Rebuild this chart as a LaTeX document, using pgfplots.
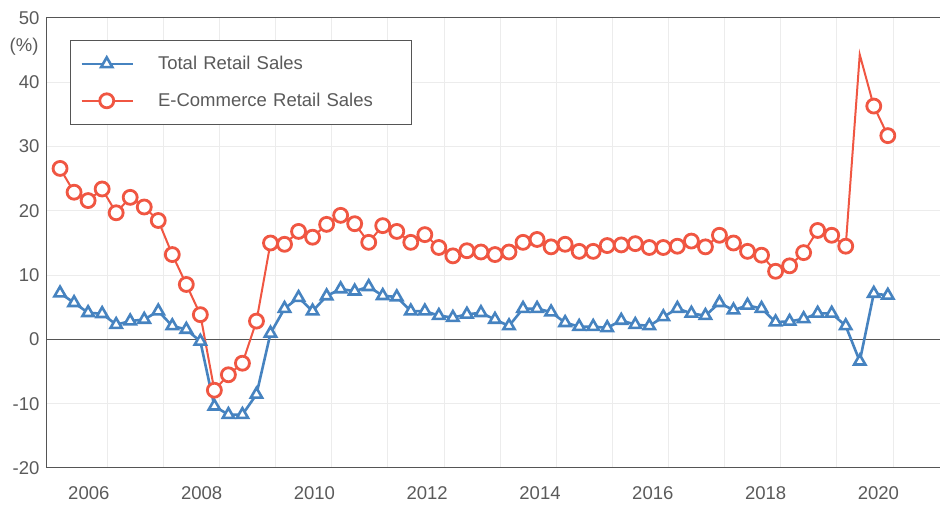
\documentclass[border=0pt]{standalone}
\usepackage{fontspec}
\setmainfont{Liberation Sans}
\usepackage{pgfplots}
\pgfplotsset{compat=1.18}
\usepackage{pgfplotstable}

\definecolor{totblue}{RGB}{70,131,192}
\definecolor{ecred}{RGB}{240,86,66}
\definecolor{txtgray}{RGB}{90,90,90}
\definecolor{axgray}{RGB}{85,85,85}
\definecolor{gridgray}{RGB}{236,236,236}

% quarterly YoY growth, index 0 = first quarter shown
\pgfplotstableread{
i  total  ecom
0  7.2    26.6
1  5.7    22.9
2  4.15   21.6
3  4.0    23.4
4  2.3    19.7
5  2.85   22.1
6  3.1    20.6
7  4.4    18.5
8  2.1    13.2
9  1.55   8.55
10 -0.3   3.85
11 -10.4  -7.9
12 -11.7  -5.5
13 -11.7  -3.7
14 -8.55  2.85
15 0.95   15.0
16 4.8    14.8
17 6.5    16.8
18 4.4    15.9
19 6.75   17.9
20 7.85   19.3
21 7.5    18.0
22 8.2    15.1
23 6.8    17.7
24 6.6    16.8
25 4.4    15.1
26 4.4    16.3
27 3.7    14.3
28 3.4    13.0
29 3.9    13.8
30 4.15   13.6
31 3.1    13.2
32 2.1    13.6
33 4.8    15.1
34 4.8    15.55
35 4.25   14.4
36 2.6    14.8
37 2.0    13.7
38 2.0    13.7
39 1.8    14.6
40 2.95   14.7
41 2.3    14.9
42 2.1    14.3
43 3.5    14.3
44 4.8    14.5
45 4.05   15.3
46 3.7    14.4
47 5.7    16.2
48 4.55   15.0
49 5.3    13.7
50 4.8    13.1
51 2.7    10.6
52 2.8    11.45
53 3.2    13.5
54 4.05   16.95
55 4.05   16.2
56 2.1    14.5
57 -3.4   44.3
58 7.15   36.3
59 6.85   31.7
}\sales

\begin{document}
\begin{tikzpicture}
\begin{axis}[
    width=893pt, height=450pt, scale only axis,
    xmin=-0.93, xmax=62.72, ymin=-20, ymax=50,
    xtick={2.05,10.09,18.13,26.17,34.21,42.25,50.29,58.33},
    xticklabels={2006,2008,2010,2012,2014,2016,2018,2020},
    minor xtick={3.37,7.37,11.37,15.37,19.37,23.37,27.37,31.37,35.37,39.37,43.37,47.37,51.37,55.37,59.37},
    ytick={-20,-10,0,10,20,30,40,50},
    yticklabels={-20,-10,0,10,20,30,40,50},
    xminorgrids=true, xmajorgrids=false, ymajorgrids=true,
    grid style={draw=gridgray, line width=1pt},
    major tick length=0pt, minor tick length=0pt,
    axis line style={draw=axgray, line width=1pt},
    tick label style={text=txtgray, font=\fontsize{18.5}{18.5}\selectfont},
    xticklabel style={yshift=-15pt},
    yticklabel style={xshift=-4pt},
    extra y ticks={0}, extra y tick labels={},
    extra y tick style={grid=major, major grid style={draw=axgray, line width=1pt}},
    legend cell align=left,
    legend style={at={(axis description cs:0.0258,0.951)}, anchor=north west,
        draw=axgray, line width=0.8pt, fill=white,
        font=\fontsize{18.5}{18.5}\selectfont, text=txtgray,
        inner xsep=10pt, inner ysep=14pt, row sep=18pt, column sep=11pt,
        nodes={inner xsep=13pt, text width=230pt}},
    legend image code/.code={%
        \draw[#1, mark indices={2}]
            plot coordinates {(0pt,0pt) (25pt,0pt) (51pt,0pt)};},
  ]
  \addplot[color=totblue, line width=2.6pt, mark=triangle*, mark size=6.5pt,
      mark options={fill=white, line width=2.6pt, solid}]
      table[x=i, y=total] {\sales};
  \addlegendentry{Total Retail Sales}
  \addplot[color=ecred, line width=2pt, mark=*, mark size=7pt,
      mark options={fill=white, line width=2.8pt, solid},
      mark indices={1,...,57,59,60}]
      table[x=i, y=ecom] {\sales};
  \addlegendentry{E-Commerce Retail Sales}
\end{axis}
\node[anchor=east, text=txtgray, font=\fontsize{18.5}{18.5}\selectfont]
    at ([shift={(-5pt,-29pt)}]current axis.north west) {(\%)};
\pgfresetboundingbox
\path ([shift={(-47pt,-40pt)}]current axis.south west)
    rectangle ([shift={(0pt,18pt)}]current axis.north east);
\end{tikzpicture}
\end{document}
